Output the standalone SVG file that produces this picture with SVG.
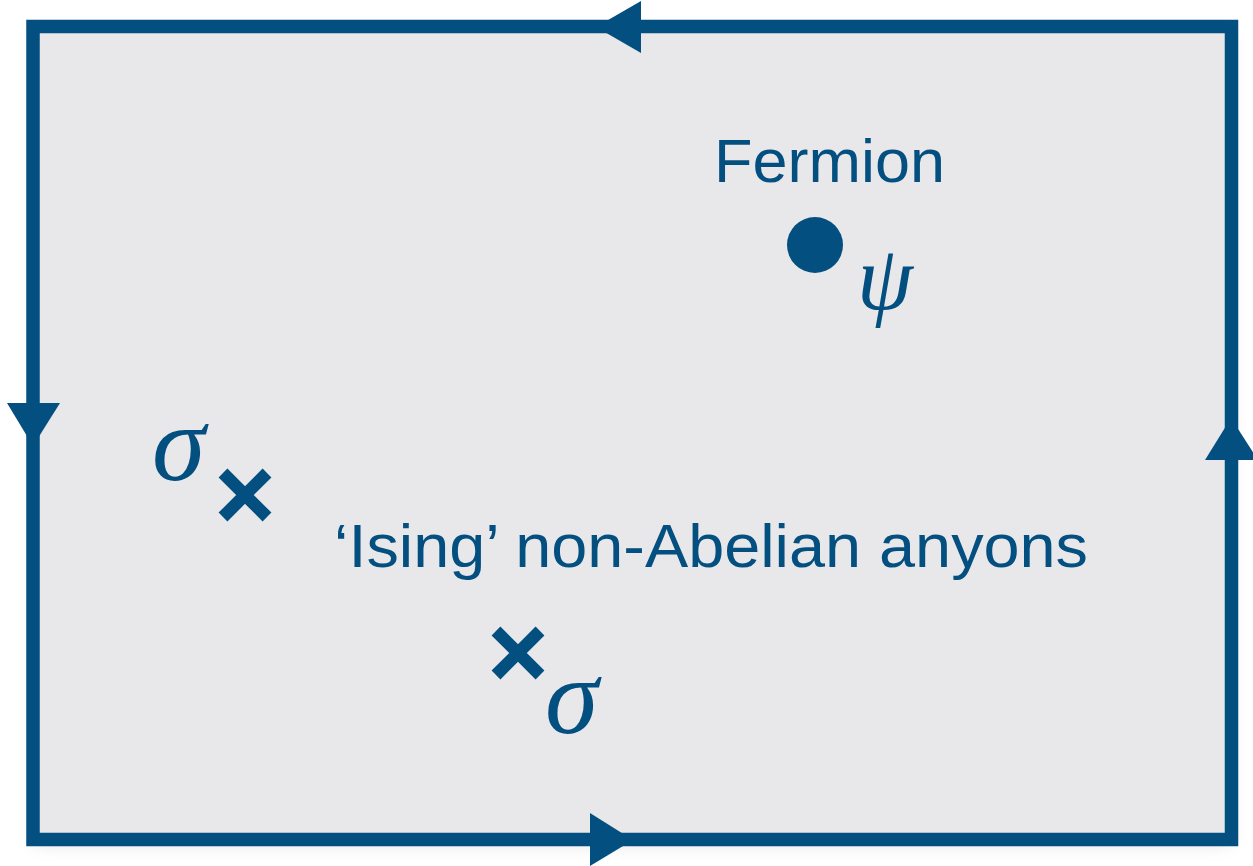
<svg xmlns="http://www.w3.org/2000/svg" width="1253" height="866" viewBox="0 0 1253 866">
  <defs>
    <filter id="soft" x="-5%" y="-5%" width="110%" height="110%">
      <feGaussianBlur stdDeviation="9"/>
    </filter>
    <style>
      .ink { fill: #034f80; }
      .label { font-family: "Liberation Sans", Arial, sans-serif; font-size: 62px; fill: #034f80; }
      .greek { font-family: "Liberation Serif", "Times New Roman", serif; font-style: italic; fill: #034f80; }
      .cross { stroke: #034f80; stroke-width: 12.5; fill: none; }
    </style>
  </defs>

  <rect width="1253" height="866" fill="#ffffff"/>

  <!-- plane with its soft drop shadow -->
  <rect x="33" y="32" width="1198" height="813" fill="#000" opacity="0.10" filter="url(#soft)"/>
  <rect x="33" y="26.5" width="1198.5" height="813" fill="#e8e8eb"/>

  <!-- boundary loop with direction arrows -->
  <g id="connectors">
    <rect x="33" y="26.5" width="1198.5" height="813" fill="none" stroke="#034f80" stroke-width="13.5"/>
    <polygon class="ink" points="596,27 641,1 641,53"/>
    <polygon class="ink" points="7,403 60,403 33,446"/>
    <polygon class="ink" points="1205,460 1258,460 1231,418"/>
    <polygon class="ink" points="590,813 590,866 633,840"/>
  </g>

  <g id="fermion">
    <text class="label" x="714" y="182" textLength="231" lengthAdjust="spacingAndGlyphs">Fermion</text>
    <circle class="ink" cx="815" cy="245" r="28"/>
    <text class="greek" x="857" y="309" font-size="90">ψ</text>
  </g>

  <g id="sigma-left">
    <text class="greek" x="152" y="480" font-size="108">σ</text>
    <path class="cross" d="M223,473 L267,517 M267,473 L223,517"/>
  </g>

  <g id="sigma-bottom">
    <path class="cross" d="M496,631 L540,675 M540,631 L496,675"/>
    <text class="greek" x="545" y="733" font-size="108">σ</text>
  </g>

  <g id="anyons-label">
    <text class="label" x="334" y="567" textLength="754" lengthAdjust="spacingAndGlyphs">‘Ising’ non-Abelian anyons</text>
  </g>
</svg>
